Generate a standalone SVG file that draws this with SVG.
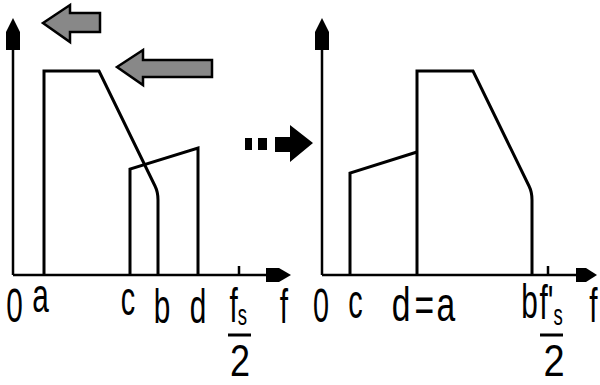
<svg xmlns="http://www.w3.org/2000/svg" width="600" height="385" viewBox="0 0 600 385">
<style>
.t{font-family:"Liberation Sans",Arial,sans-serif;font-size:48px;fill:#000;text-anchor:middle}
.sub{font-size:30px}
.two{font-size:40px}
.axis{stroke:#000;stroke-width:2.5;fill:none}
.spec{stroke:#000;stroke-width:3;fill:none;stroke-linejoin:miter}
.head{fill:#000;stroke:none}
.gray{fill:#888;stroke:#000;stroke-width:2.5;stroke-linejoin:miter}
.bar{stroke:#000;stroke-width:3}
</style>
<rect width="600" height="385" fill="#fff"/>

<g id="left-panel">
  <g id="left-axes">
    <path class="axis" d="M13,275 V40 M13,275 H275 M239,266 V275"/>
    <polygon class="head" points="13,18 20,32 20,50 6,50 6,32"/>
    <polygon class="head" points="266,268 279,268 291,275 279,282 266,282"/>
  </g>
  <g id="left-spectrum-1">
    <path class="spec" d="M44,275 V71 H99 L155,186 Q158,192 158,200 V275"/>
  </g>
  <g id="left-spectrum-2">
    <path class="spec" d="M130,275 V169 L198,148 V275"/>
  </g>
  <g id="arrow-small">
    <polygon class="gray" points="43,23 70,5 70,13 100,13 100,32 70,32 70,42"/>
  </g>
  <g id="arrow-large">
    <polygon class="gray" points="117,67 143,50 143,60 212,60 212,77 143,77 143,85"/>
  </g>
  <g id="left-labels">
    <text class="t" transform="translate(14.5,322) scale(0.62,1)">0</text>
    <text class="t" transform="translate(40.5,312) scale(0.62,1)">a</text>
    <text class="t" transform="translate(128,315) scale(0.6,1)">c</text>
    <text class="t" transform="translate(162,323) scale(0.62,1)">b</text>
    <text class="t" transform="translate(198,323) scale(0.62,1)">d</text>
    <text class="t" transform="translate(229.5,322) scale(0.62,1)" style="text-anchor:start">f<tspan class="sub" dy="3">s</tspan></text>
    <line class="bar" x1="228" y1="335" x2="251" y2="335"/>
    <text class="t two" transform="translate(240,376) scale(0.9,1.1)">2</text>
    <text class="t" transform="translate(284,323) scale(0.62,1)">f</text>
  </g>
</g>

<g id="connectors">
  <rect class="head" x="245" y="138" width="7" height="12"/>
  <rect class="head" x="258" y="138" width="9" height="12"/>
  <polygon class="head" points="275,137 290,137 290,125 313,143 290,162 290,152 275,152"/>
</g>

<g id="right-panel">
  <g id="right-axes">
    <path class="axis" d="M322,275 V40 M322,275 H580 M548,266 V275"/>
    <polygon class="head" points="322,18 329,32 329,50 315,50 315,32"/>
    <polygon class="head" points="576,268 586,268 597,275 586,282 576,282"/>
  </g>
  <g id="right-spectrum-1">
    <path class="spec" d="M350,275 V173 L417,152"/>
  </g>
  <g id="right-spectrum-2">
    <path class="spec" d="M417,275 V71 H473 L529,186 Q532,192 532,200 V275"/>
  </g>
  <g id="right-labels">
    <text class="t" transform="translate(321,322) scale(0.6,1)">0</text>
    <text class="t" transform="translate(355.5,318) scale(0.6,1)">c</text>
    <text class="t" transform="translate(0,321) scale(0.7,1)"><tspan x="573">d</tspan><tspan x="606">=</tspan><tspan x="637">a</tspan></text>
    <text class="t" transform="translate(529.5,318) scale(0.62,1)">b</text>
    <text class="t" transform="translate(539.5,319) scale(0.62,1)" style="text-anchor:start">f'<tspan class="sub" dy="6">s</tspan></text>
    <line class="bar" x1="540" y1="335" x2="563" y2="335"/>
    <text class="t two" transform="translate(554,376) scale(0.95,1.1)">2</text>
    <text class="t" transform="translate(593.5,322) scale(0.62,1)">f</text>
  </g>
</g>
</svg>
